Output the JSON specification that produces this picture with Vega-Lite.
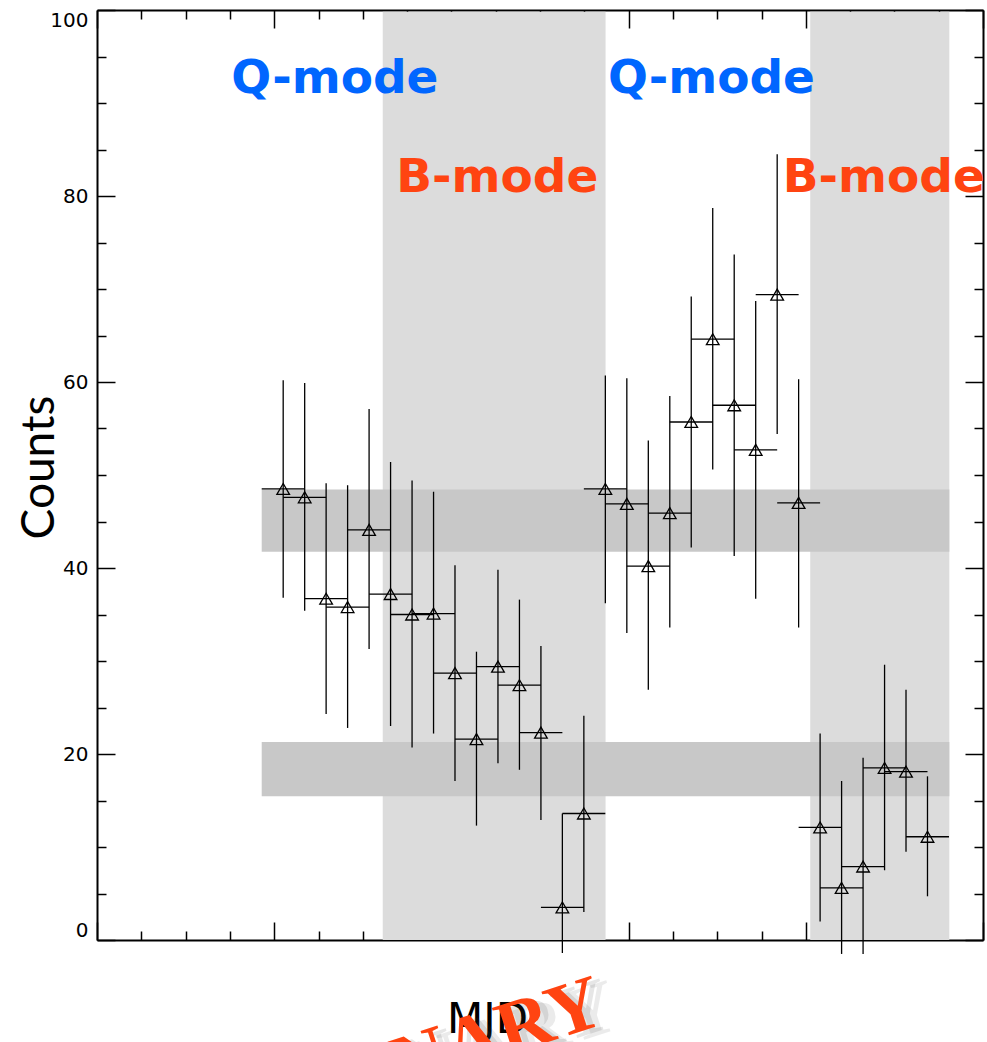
{
  "$schema": "https://vega.github.io/schema/vega-lite/v6.json",
  "width": 886,
  "height": 930,
  "autosize": {"type": "none"},
  "padding": {"left": 97, "top": 10, "right": 4, "bottom": 102},
  "background": "white",
  "config": {
    "view": {"stroke": null},
    "axis": {
      "grid": false,
      "domainColor": "black",
      "domainWidth": 2,
      "tickColor": "black",
      "tickWidth": 1.5,
      "labelOverlap": false
    }
  },
  "datasets": {
    "counts": [
      {"x": 4.203, "xlo": 3.718, "xhi": 4.688, "y": 48.5, "lo": 36.8, "hi": 60.2},
      {"x": 4.688, "xlo": 4.203, "xhi": 5.172, "y": 47.6, "lo": 35.4, "hi": 59.9},
      {"x": 5.172, "xlo": 4.688, "xhi": 5.657, "y": 36.7, "lo": 24.3, "hi": 49.1},
      {"x": 5.657, "xlo": 5.172, "xhi": 6.142, "y": 35.8, "lo": 22.8, "hi": 48.9},
      {"x": 6.142, "xlo": 5.657, "xhi": 6.627, "y": 44.1, "lo": 31.3, "hi": 57.1},
      {"x": 6.627, "xlo": 6.142, "xhi": 7.112, "y": 37.2, "lo": 23.0, "hi": 51.4},
      {"x": 7.112, "xlo": 6.627, "xhi": 7.597, "y": 35.0, "lo": 20.7, "hi": 49.4},
      {"x": 7.597, "xlo": 7.112, "xhi": 8.081, "y": 35.1, "lo": 22.2, "hi": 48.2},
      {"x": 8.081, "xlo": 7.597, "xhi": 8.566, "y": 28.7, "lo": 17.1, "hi": 40.3},
      {"x": 8.566, "xlo": 8.081, "xhi": 9.051, "y": 21.6, "lo": 12.3, "hi": 31.0},
      {"x": 9.051, "xlo": 8.566, "xhi": 9.536, "y": 29.4, "lo": 19.0, "hi": 39.8},
      {"x": 9.536, "xlo": 9.051, "xhi": 10.021, "y": 27.4, "lo": 18.3, "hi": 36.6},
      {"x": 10.021, "xlo": 9.536, "xhi": 10.505, "y": 22.3, "lo": 12.9, "hi": 31.6},
      {"x": 10.505, "xlo": 10.021, "xhi": 10.99, "y": 3.5, "lo": -1.4, "hi": 13.6},
      {"x": 10.99, "xlo": 10.505, "xhi": 11.475, "y": 13.6, "lo": 3.0, "hi": 24.1},
      {"x": 11.475, "xlo": 10.99, "xhi": 11.96, "y": 48.5, "lo": 36.2, "hi": 60.7},
      {"x": 11.96, "xlo": 11.475, "xhi": 12.445, "y": 46.9, "lo": 33.0, "hi": 60.4},
      {"x": 12.445, "xlo": 11.96, "xhi": 12.93, "y": 40.2, "lo": 26.9, "hi": 53.7},
      {"x": 12.93, "xlo": 12.445, "xhi": 13.414, "y": 45.9, "lo": 33.6, "hi": 58.5},
      {"x": 13.414, "xlo": 12.93, "xhi": 13.899, "y": 55.7, "lo": 42.2, "hi": 69.2},
      {"x": 13.899, "xlo": 13.414, "xhi": 14.384, "y": 64.6, "lo": 50.6, "hi": 78.7},
      {"x": 14.384, "xlo": 13.899, "xhi": 14.869, "y": 57.5, "lo": 41.3, "hi": 73.7},
      {"x": 14.869, "xlo": 14.384, "xhi": 15.354, "y": 52.7, "lo": 36.7, "hi": 68.7},
      {"x": 15.354, "xlo": 14.869, "xhi": 15.838, "y": 69.4, "lo": 54.4, "hi": 84.5},
      {"x": 15.838, "xlo": 15.354, "xhi": 16.323, "y": 47.0, "lo": 33.6, "hi": 60.3},
      {"x": 16.323, "xlo": 15.838, "xhi": 16.808, "y": 12.1, "lo": 2.0, "hi": 22.2},
      {"x": 16.808, "xlo": 16.323, "xhi": 17.293, "y": 5.6, "lo": -1.5, "hi": 17.1},
      {"x": 17.293, "xlo": 16.808, "xhi": 17.778, "y": 7.9, "lo": -1.5, "hi": 19.6},
      {"x": 17.778, "xlo": 17.293, "xhi": 18.262, "y": 18.5, "lo": 7.5, "hi": 29.6},
      {"x": 18.262, "xlo": 17.778, "xhi": 18.747, "y": 18.1, "lo": 9.5, "hi": 26.9},
      {"x": 18.747, "xlo": 18.262, "xhi": 19.232, "y": 11.1, "lo": 4.7, "hi": 17.6}
    ],
    "bmode_spans": [
      {"start": 6.45, "end": 11.48, "low": 0, "high": 99.8},
      {"start": 16.1, "end": 19.24, "low": 0, "high": 99.8}
    ],
    "levels": [
      {"start": 3.718, "end": 19.24, "low": 41.75, "high": 48.45},
      {"start": 3.718, "end": 19.24, "low": 15.45, "high": 21.3}
    ],
    "qlabels": [
      {"label": "Q-mode", "x": 5.37, "y": 91.07},
      {"label": "Q-mode", "x": 13.87, "y": 91.07}
    ],
    "blabels": [
      {"label": "B-mode", "x": 9.035, "y": 80.43},
      {"label": "B-mode", "x": 17.76, "y": 80.43}
    ],
    "stamp": [
      {"label": "PRELIMINARY", "x": 11.53, "y": -8.88}
    ]
  },
  "layer": [
    {
      "data": {"name": "bmode_spans"},
      "mark": {"type": "rect", "color": "#dcdcdc"},
      "encoding": {
        "x": {
          "field": "start", "type": "quantitative",
          "scale": {"domain": [0, 20], "nice": false, "zero": false},
          "axis": {
            "orient": "bottom",
            "values": [0,1,2,3,4,5,6,7,8,9,10,11,12,13,14,15,16,17,18,19,20],
            "tickSize": {"condition": {"test": "datum.value % 4 === 0", "value": -18}, "value": -9},
            "labels": false,
            "title": "MJD",
            "titleFont": "DejaVu Sans",
            "titleFontSize": 42,
            "titleFontWeight": "normal",
            "titleColor": "black",
            "titleX": 390,
            "titleY": 92,
            "titleAlign": "center",
            "titleBaseline": "alphabetic"
          }
        },
        "x2": {"field": "end"},
        "y": {
          "field": "low", "type": "quantitative",
          "scale": {"domain": [0, 100], "nice": false},
          "axis": {
            "orient": "left",
            "values": [0,5,10,15,20,25,30,35,40,45,50,55,60,65,70,75,80,85,90,95,100],
            "tickSize": {"condition": {"test": "datum.value % 20 === 0", "value": -18}, "value": -9},
            "labelExpr": "datum.value % 20 === 0 ? datum.label : ''",
            "labelFont": "DejaVu Sans",
            "labelFontSize": 20,
            "labelColor": "black",
            "labelPadding": 27,
            "labelFlush": true,
            "title": "Counts",
            "titleFont": "Lato",
            "titleFontSize": 46,
            "titleFontWeight": "normal",
            "titleColor": "black",
            "titleAngle": 270,
            "titleX": -44,
            "titleY": 457,
            "titleAlign": "center",
            "titleBaseline": "alphabetic"
          }
        },
        "y2": {"field": "high"}
      }
    },
    {
      "data": {"name": "levels"},
      "mark": {"type": "rect", "color": "#c8c8c8"},
      "encoding": {
        "x": {
          "field": "start", "type": "quantitative",
          "axis": {
            "orient": "top",
            "values": [0,1,2,3,4,5,6,7,8,9,10,11,12,13,14,15,16,17,18,19,20],
            "tickSize": {"condition": {"test": "datum.value % 4 === 0", "value": -18}, "value": -9},
            "labels": false,
            "title": null
          }
        },
        "x2": {"field": "end"},
        "y": {
          "field": "low", "type": "quantitative",
          "axis": {
            "orient": "right",
            "values": [0,5,10,15,20,25,30,35,40,45,50,55,60,65,70,75,80,85,90,95,100],
            "tickSize": {"condition": {"test": "datum.value % 20 === 0", "value": -18}, "value": -9},
            "labels": false,
            "title": null
          }
        },
        "y2": {"field": "high"}
      }
    },
    {
      "data": {"name": "counts"},
      "mark": {"type": "rule", "color": "black", "strokeWidth": 1.3},
      "encoding": {
        "x": {"field": "x", "type": "quantitative", "axis": null},
        "y": {"field": "lo", "type": "quantitative", "axis": null},
        "y2": {"field": "hi"}
      }
    },
    {
      "data": {"name": "counts"},
      "mark": {"type": "rule", "color": "black", "strokeWidth": 1.3},
      "encoding": {
        "x": {"field": "xlo", "type": "quantitative", "axis": null},
        "x2": {"field": "xhi"},
        "y": {"field": "y", "type": "quantitative", "axis": null}
      }
    },
    {
      "data": {"name": "counts"},
      "mark": {"type": "point", "shape": "triangle-up", "size": 160, "filled": false, "stroke": "black", "strokeWidth": 1.3, "opacity": 1},
      "encoding": {
        "x": {"field": "x", "type": "quantitative", "axis": null},
        "y": {"field": "y", "type": "quantitative", "axis": null}
      }
    },
    {
      "data": {"name": "qlabels"},
      "mark": {"type": "text", "font": "DejaVu Sans", "fontWeight": "bold", "fontSize": 47, "color": "#0066ff", "align": "center", "baseline": "alphabetic"},
      "encoding": {
        "x": {"field": "x", "type": "quantitative", "axis": null},
        "y": {"field": "y", "type": "quantitative", "axis": null},
        "text": {"field": "label"}
      }
    },
    {
      "data": {"name": "blabels"},
      "mark": {"type": "text", "font": "DejaVu Sans", "fontWeight": "bold", "fontSize": 47, "color": "#ff4411", "align": "center", "baseline": "alphabetic"},
      "encoding": {
        "x": {"field": "x", "type": "quantitative", "axis": null},
        "y": {"field": "y", "type": "quantitative", "axis": null},
        "text": {"field": "label"}
      }
    },
    {
      "data": {"name": "stamp"},
      "mark": {"type": "text", "font": "Liberation Serif", "fontWeight": "bold", "fontSize": 76, "color": "#444444", "opacity": 0.13, "align": "right", "baseline": "alphabetic", "angle": -18, "dx": 7, "dy": 5},
      "encoding": {
        "x": {"field": "x", "type": "quantitative", "axis": null},
        "y": {"field": "y", "type": "quantitative", "axis": null},
        "text": {"field": "label"}
      }
    },
    {
      "data": {"name": "stamp"},
      "mark": {"type": "text", "font": "Liberation Serif", "fontWeight": "bold", "fontSize": 76, "color": "#444444", "opacity": 0.1, "align": "right", "baseline": "alphabetic", "angle": -18, "dx": 13, "dy": 9},
      "encoding": {
        "x": {"field": "x", "type": "quantitative", "axis": null},
        "y": {"field": "y", "type": "quantitative", "axis": null},
        "text": {"field": "label"}
      }
    },
    {
      "data": {"name": "stamp"},
      "mark": {"type": "text", "font": "Liberation Serif", "fontWeight": "bold", "fontSize": 76, "color": "#ff4411", "align": "right", "baseline": "alphabetic", "angle": -18},
      "encoding": {
        "x": {"field": "x", "type": "quantitative", "axis": null},
        "y": {"field": "y", "type": "quantitative", "axis": null},
        "text": {"field": "label"}
      }
    }
  ],
  "resolve": {"axis": {"x": "independent", "y": "independent"}}
}
